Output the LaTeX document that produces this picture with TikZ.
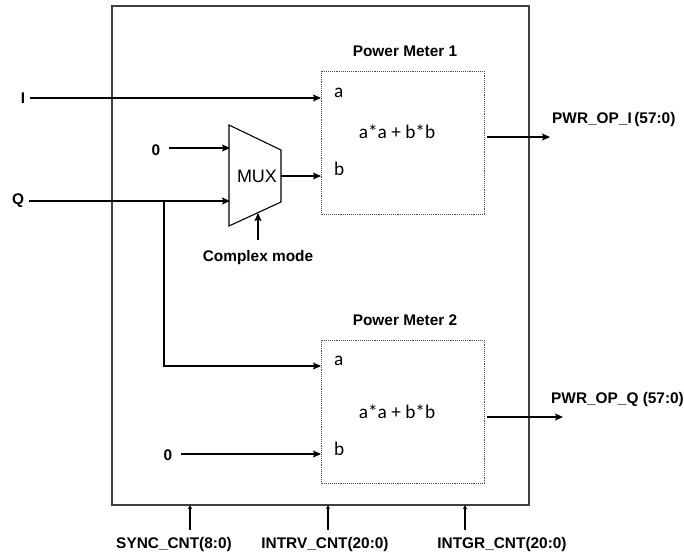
\documentclass[tikz,border=0pt]{standalone}
\usepackage{fontspec}
\setmainfont{Liberation Sans}
\newfontfamily\carl{Carlito}
\usetikzlibrary{arrows.meta}
\tikzset{
  arr/.style={line width=1.1pt,-{Stealth[length=8pt,width=7pt,inset=1.5pt]}},
  smarr/.style={line width=1.1pt,-{Stealth[length=4pt,width=4pt,inset=1pt]}},
  wire/.style={line width=1.1pt},
  lbl/.style={font=\fontsize{15.4}{17}\selectfont\bfseries, inner sep=0pt},
  port/.style={font=\carl\fontsize{19.3}{21}\selectfont, inner sep=0pt, anchor=west},
  func/.style={font=\carl\fontsize{19.3}{21}\selectfont, inner sep=0pt},
  pmbox/.style={draw=black!70, densely dotted, line width=0.9pt},
  outer/.style={draw=black!75, line width=1.5pt}
}
\begin{document}
\begin{tikzpicture}[x=1pt,y=-1pt]
\useasboundingbox (0,0) rectangle (684,554);
% outer box
\draw[outer] (112,6) rectangle (529,505);
% power meter boxes
\draw[pmbox] (321,71) rectangle (484,214);
\draw[pmbox] (321,340) rectangle (484,483);
\node[lbl] (t1) at (405,51) {Power Meter 1};
\node[lbl] (t2) at (405,320) {Power Meter 2};
% ports
\node[port] (a1) at (334,93) {a};
\node[port] (b1) at (334,169) {b};
\node[func] (f1) at (397,132) {a*a + b*b};
\node[port] (a2) at (334,361) {a};
\node[port] (b2) at (334,449) {b};
\node[func] (f2) at (397,412) {a*a + b*b};
\coordinate (pa1) at (321,98);
\coordinate (pb1) at (321,176);
\coordinate (pa2) at (321,366);
\coordinate (pb2) at (321,454);
% inputs
\node[lbl] (I) at (23,98) {I};
\node[lbl] (Q) at (18,201) {Q};
\node[lbl] (z1) at (156,150) {0};
\node[lbl] (z2) at (168,455) {0};
\coordinate (Ie) at (30,98);
\coordinate (Qe) at (29,201);
\coordinate (z1e) at (169,148);
\coordinate (z2e) at (181,454);
% MUX
\coordinate (m1) at (229,125);
\coordinate (m2) at (281,150);
\coordinate (m3) at (281,202);
\coordinate (m4) at (229,226);
\draw[wire] (m1) -- (m2) -- (m3) -- (m4) -- cycle;
\node[font=\fontsize{18}{20}\selectfont, inner sep=0pt] (mux) at (257,176) {MUX};
\coordinate (min0) at (230,148);
\coordinate (minq) at (230,201);
\coordinate (mout) at (281,176);
\coordinate (msel) at (258,213);
\coordinate (brq) at (164,201);
\coordinate (brc) at (164,366);
\node[lbl] (cm) at (258,258) {Complex mode};
\coordinate (cme) at (258,240);
% connectors
\draw[arr] (Ie) -- (pa1);
\draw[arr] (z1e) -- (min0);
\draw[arr] (Qe) -- (minq);
\draw[arr] (mout) -- (pb1);
\draw[arr] (cme) -- (msel);
\draw[arr] (brq) -- (brc) -- (pa2);
\draw[arr] (z2e) -- (pb2);
% outputs
\coordinate (o1s) at (487,137);
\coordinate (o1e) at (550,137);
\coordinate (o2s) at (487,417);
\coordinate (o2e) at (563,417);
\draw[arr] (o1s) -- (o1e);
\draw[arr] (o2s) -- (o2e);
\node[lbl, anchor=west] (po1) at (552,120) {PWR\_OP\_I\,(57:0)};
\node[lbl, anchor=west] (po2) at (551,400) {PWR\_OP\_Q (57:0)};
% bottom counters
\node[lbl] (sync) at (174,545) {SYNC\_CNT(8:0)};
\node[lbl] (intrv) at (325,545) {INTRV\_CNT(20:0)};
\node[lbl] (intgr) at (502,545) {INTGR\_CNT(20:0)};
\coordinate (s1) at (190,530);
\coordinate (s2) at (190,505);
\coordinate (r1) at (328,530);
\coordinate (r2) at (328,505);
\coordinate (g1) at (465,530);
\coordinate (g2) at (465,505);
\draw[smarr] (s1) -- (s2);
\draw[smarr] (r1) -- (r2);
\draw[smarr] (g1) -- (g2);
\end{tikzpicture}
\end{document}
